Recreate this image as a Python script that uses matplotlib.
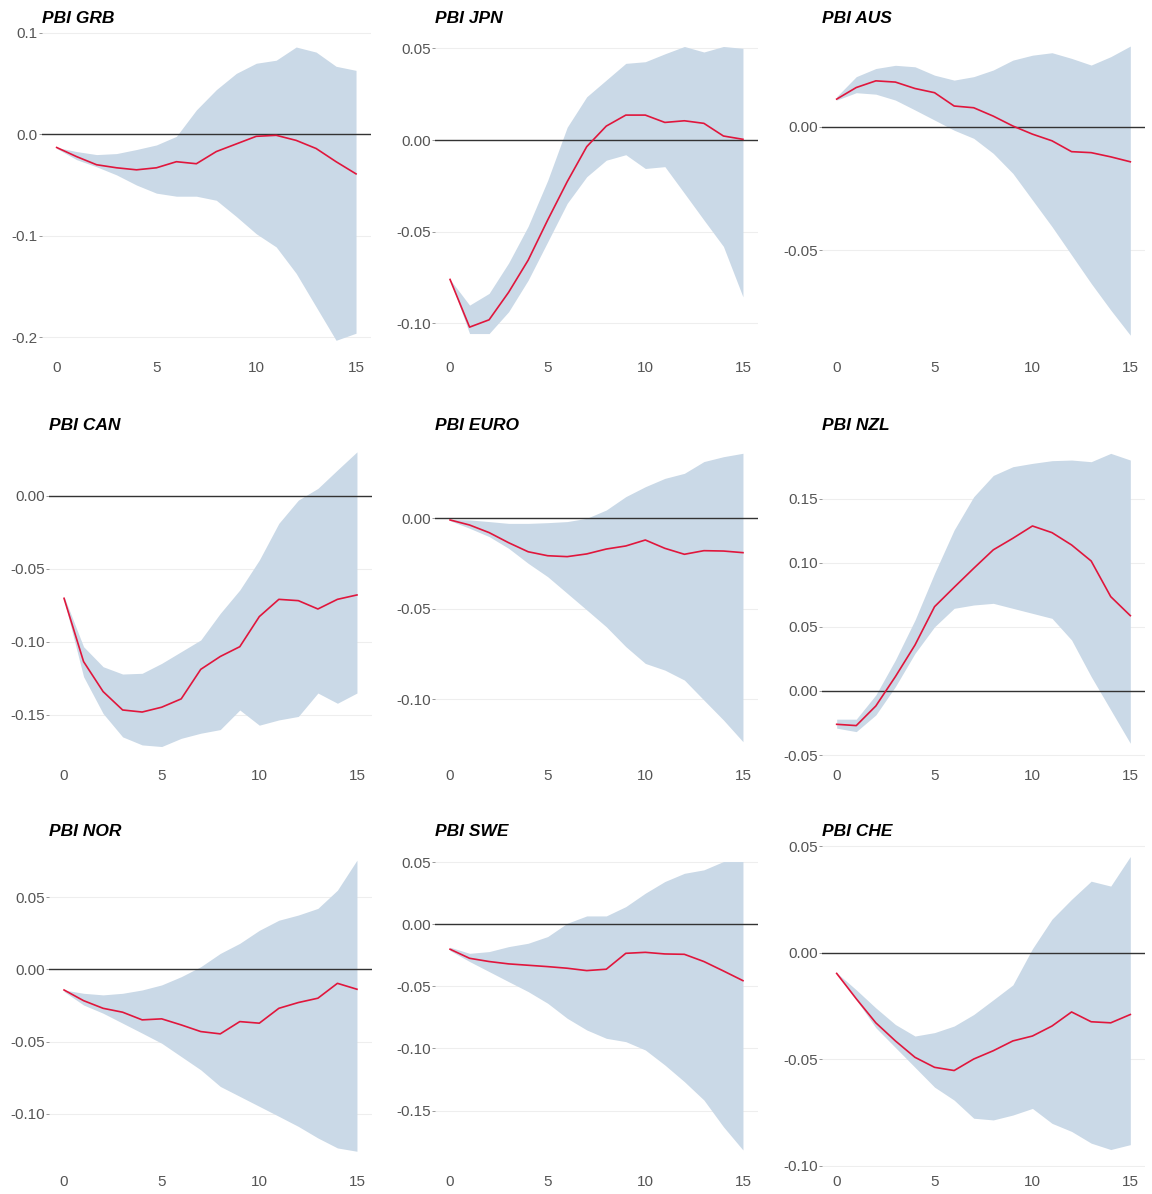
import matplotlib.pyplot as plt
from matplotlib.transforms import offset_copy

plt.rcParams['font.family'] = ['Liberation Sans', 'DejaVu Sans']
plt.rcParams['axes.unicode_minus'] = False

horizon = list(range(16))

# impulse responses of GDP with confidence bands
grb_irf = [-0.013, -0.022, -0.030, -0.033, -0.035, -0.033, -0.027, -0.029,
           -0.017, -0.0095, -0.002, -0.001, -0.006, -0.014, -0.027, -0.039]
grb_lo = [-0.014, -0.025, -0.032, -0.040, -0.050, -0.058, -0.061, -0.061,
          -0.065, -0.081, -0.098, -0.111, -0.137, -0.170, -0.203, -0.196]
grb_hi = [-0.013, -0.017, -0.020, -0.019, -0.015, -0.0105, -0.002, 0.024,
          0.044, 0.060, 0.070, 0.073, 0.086, 0.081, 0.067, 0.063]

jpn_irf = [-0.076, -0.102, -0.098, -0.083, -0.0655, -0.0436, -0.0227, -0.0036,
           0.0076, 0.0136, 0.0136, 0.0096, 0.0105, 0.0091, 0.0022, 0.0004]
jpn_lo = [-0.076, -0.1055, -0.1055, -0.0936, -0.0764, -0.0555, -0.0345, -0.020,
          -0.011, -0.008, -0.0155, -0.0145, -0.029, -0.0436, -0.058, -0.0855]
jpn_hi = [-0.076, -0.090, -0.0836, -0.067, -0.047, -0.022, 0.007, 0.0236,
          0.0327, 0.0418, 0.0427, 0.047, 0.051, 0.048, 0.051, 0.050]

aus_irf = [0.0112, 0.0159, 0.0186, 0.0181, 0.0155, 0.0138, 0.0084, 0.0077,
           0.0043, 0.0003, -0.003, -0.0057, -0.0101, -0.0105, -0.0122, -0.0142]
aus_lo = [0.0108, 0.0138, 0.0132, 0.0108, 0.0068, 0.0027, -0.0014, -0.0047,
          -0.0108, -0.0189, -0.0297, -0.0405, -0.052, -0.0635, -0.0743, -0.0845]
aus_hi = [0.0122, 0.0203, 0.0236, 0.0249, 0.0243, 0.0209, 0.0189, 0.0203,
          0.023, 0.027, 0.029, 0.030, 0.0277, 0.025, 0.0284, 0.0327]

can_irf = [-0.0702, -0.1135, -0.134, -0.1466, -0.148, -0.1447, -0.139, -0.1188,
           -0.110, -0.1033, -0.0827, -0.0709, -0.0718, -0.0775, -0.0709, -0.0679]
can_lo = [-0.0713, -0.1238, -0.149, -0.165, -0.1705, -0.1716, -0.166, -0.1625,
          -0.160, -0.1466, -0.157, -0.1534, -0.151, -0.135, -0.142, -0.135]
can_hi = [-0.069, -0.1033, -0.117, -0.122, -0.1215, -0.1147, -0.1067, -0.0987,
          -0.0805, -0.0645, -0.044, -0.0189, -0.003, 0.005, 0.0176, 0.030]

euro_irf = [-0.0009, -0.0037, -0.0079, -0.0135, -0.0185, -0.0207, -0.0212, -0.0197,
            -0.017, -0.0153, -0.012, -0.0166, -0.0199, -0.0179, -0.0181, -0.019]
euro_lo = [-0.0013, -0.0055, -0.0101, -0.0166, -0.0249, -0.0323, -0.0415, -0.0507,
           -0.060, -0.071, -0.0803, -0.084, -0.0895, -0.1006, -0.1116, -0.1236]
euro_hi = [-0.0006, -0.0009, -0.0018, -0.0028, -0.0028, -0.0024, -0.0018, 0.0,
           0.0046, 0.012, 0.0175, 0.0221, 0.0249, 0.0314, 0.0341, 0.036]

nzl_irf = [-0.026, -0.027, -0.0117, 0.0112, 0.0358, 0.0657, 0.0808, 0.0956,
           0.110, 0.119, 0.1286, 0.1234, 0.1138, 0.1013, 0.0735, 0.0587]
nzl_lo = [-0.029, -0.0317, -0.0187, 0.0034, 0.0293, 0.050, 0.0644, 0.067,
          0.0683, 0.0644, 0.0605, 0.0566, 0.0397, 0.0112, -0.0148, -0.0408]
nzl_hi = [-0.022, -0.022, -0.0031, 0.0242, 0.0553, 0.0917, 0.1255, 0.1514,
          0.168, 0.1748, 0.1774, 0.1795, 0.180, 0.1787, 0.1852, 0.180]

nor_irf = [-0.0143, -0.0217, -0.027, -0.0297, -0.035, -0.0343, -0.0385, -0.0431,
           -0.0447, -0.0362, -0.0373, -0.027, -0.023, -0.020, -0.0097, -0.0138]
nor_lo = [-0.0154, -0.0247, -0.0304, -0.0373, -0.0442, -0.0512, -0.0604, -0.0696,
          -0.0811, -0.088, -0.0949, -0.1018, -0.1088, -0.1168, -0.1237, -0.126]
nor_hi = [-0.0143, -0.0166, -0.0177, -0.0166, -0.0143, -0.0108, -0.0051, 0.0018,
          0.011, 0.018, 0.027, 0.034, 0.0376, 0.0422, 0.0548, 0.0756]

swe_irf = [-0.0201, -0.0274, -0.030, -0.0319, -0.033, -0.0341, -0.0354, -0.0373,
           -0.0362, -0.0234, -0.0226, -0.0239, -0.0242, -0.030, -0.0376, -0.0454]
swe_lo = [-0.0212, -0.030, -0.0381, -0.0462, -0.0542, -0.0636, -0.0757, -0.0851,
          -0.0918, -0.0945, -0.1012, -0.1133, -0.1267, -0.1415, -0.163, -0.1817]
swe_hi = [-0.0185, -0.0234, -0.022, -0.018, -0.0153, -0.0099, 0.0008, 0.0067,
          0.0067, 0.0142, 0.025, 0.0344, 0.041, 0.0438, 0.0505, 0.0505]

che_irf = [-0.0096, -0.0215, -0.0328, -0.0413, -0.049, -0.0537, -0.0552, -0.0498,
           -0.0459, -0.0413, -0.039, -0.0343, -0.0277, -0.0323, -0.0328, -0.0289]
che_lo = [-0.0099, -0.022, -0.0351, -0.0444, -0.0537, -0.063, -0.0691, -0.0776,
          -0.0784, -0.0761, -0.073, -0.080, -0.0838, -0.0893, -0.0923, -0.090]
che_hi = [-0.0093, -0.0173, -0.0258, -0.0336, -0.039, -0.0374, -0.0343, -0.0289,
          -0.022, -0.015, 0.002, 0.0159, 0.0252, 0.0337, 0.0314, 0.0453]

titles = ['PBI GRB', 'PBI JPN', 'PBI AUS',
          'PBI CAN', 'PBI EURO', 'PBI NZL',
          'PBI NOR', 'PBI SWE', 'PBI CHE']
y_ticks = [[0.1, 0.0, -0.1, -0.2],
           [0.05, 0.00, -0.05, -0.10],
           [0.00, -0.05],
           [0.00, -0.05, -0.10, -0.15],
           [0.00, -0.05, -0.10],
           [0.15, 0.10, 0.05, 0.00, -0.05],
           [0.05, 0.00, -0.05, -0.10],
           [0.05, 0.00, -0.05, -0.10, -0.15],
           [0.05, 0.00, -0.05, -0.10]]
x_ticks = [0, 5, 10, 15]

series = [(grb_irf, grb_lo, grb_hi), (jpn_irf, jpn_lo, jpn_hi), (aus_irf, aus_lo, aus_hi),
          (can_irf, can_lo, can_hi), (euro_irf, euro_lo, euro_hi), (nzl_irf, nzl_lo, nzl_hi),
          (nor_irf, nor_lo, nor_hi), (swe_irf, swe_lo, swe_hi), (che_irf, che_lo, che_hi)]

# panel boxes in pixels: left, right, top, bottom
W, H = 1152, 1194
col_lr = [[(41.7, 371.0), (49.4, 371.6), (49.4, 371.6)],
          [(435.4, 757.6)] * 3,
          [(822.0, 1145.0)] * 3]
row_tb = [(32, 353), (439, 761), (845, 1167)]
y_limits = [(-0.2155, 0.1008), (-0.1161, 0.0589), (-0.0917, 0.0384),
            (-0.1815, 0.0388), (-0.1343, 0.0439), (-0.0546, 0.1964),
            (-0.1369, 0.0861), (-0.1954, 0.0638), (-0.1005, 0.0507)]

band_color = '#cad9e7'
line_color = '#e0163c'
tick_color = '#555555'

fig = plt.figure(figsize=(W / 100, H / 100), dpi=100)

for i, (title, (irf, lo, hi)) in enumerate(zip(titles, series)):
    r, c = divmod(i, 3)
    left, right = col_lr[c][r]
    top, bottom = row_tb[r]
    ax = fig.add_axes([left / W, 1 - bottom / H, (right - left) / W, (bottom - top) / H])

    ax.fill_between(horizon, lo, hi, color=band_color, linewidth=0, zorder=2)
    ax.axhline(0, color='#333333', linewidth=1.0, zorder=3)
    ax.plot(horizon, irf, color=line_color, linewidth=1.2, zorder=4)

    ax.set_xlim(-0.75, 15.75)
    ax.set_ylim(*y_limits[i])
    ax.set_xticks(x_ticks)
    ax.set_xticklabels([str(t) for t in x_ticks])
    ticks = y_ticks[i]
    decimals = 1 if i == 0 else 2
    ax.set_yticks(ticks)
    ax.set_yticklabels([f'{t:.{decimals}f}' for t in ticks])

    ax.grid(axis='y', color='#eeeeee', linewidth=0.8, zorder=0)
    ax.set_axisbelow(True)
    for s in ax.spines.values():
        s.set_visible(False)
    ax.tick_params(axis='x', length=0, pad=6, labelsize=11, labelcolor=tick_color)
    ax.tick_params(axis='y', length=2, width=0.6, color='#888888', pad=1,
                   labelsize=11, labelcolor=tick_color)

    tr = offset_copy(ax.transAxes, fig=fig, y=10, units='points')
    ax.text(0, 1, title, transform=tr, ha='left', va='center', fontsize=12.5,
            fontweight='bold', fontstyle='italic', color='black')

fig.savefig('out.png', dpi=100)
